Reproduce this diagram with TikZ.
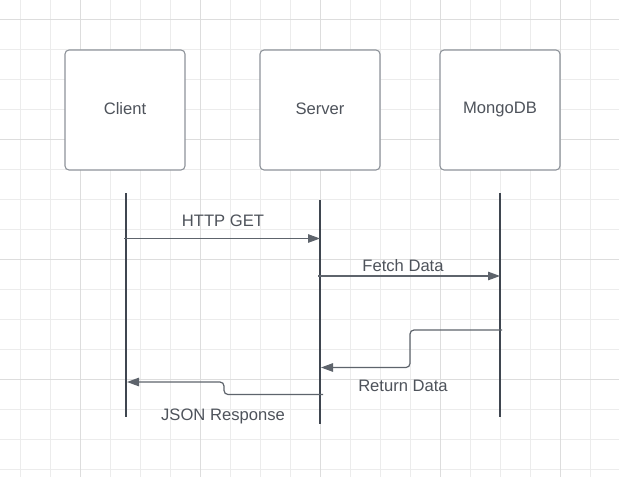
\documentclass[tikz,border=0pt]{standalone}
\usepackage{fontspec}
\setmainfont{Liberation Sans}
\usetikzlibrary{arrows.meta}
\definecolor{gridminor}{HTML}{ECECEC}
\definecolor{gridmajor}{HTML}{DDDDDD}
\definecolor{boxline}{HTML}{8E939A}
\definecolor{lifeline}{HTML}{3F4650}
\definecolor{msgline}{HTML}{5E646C}
\definecolor{txt}{HTML}{4E535B}
\begin{document}
\begin{tikzpicture}[x=1pt,y=-1pt,
  actor/.style={draw=boxline, line width=1.1pt, rounded corners=4pt, fill=white,
    minimum width=120pt, minimum height=120pt, inner sep=0pt,
    text=txt, font=\fontsize{16.6}{19}\selectfont},
  lbl/.style={text=txt, font=\fontsize{16.6}{19}\selectfont, inner sep=0pt},
  life/.style={draw=lifeline, line width=1.15pt},
  msg/.style={draw=msgline, line width=1.2pt, rounded corners=4pt,
    -{Triangle[length=12pt,width=8.5pt]}}]
\useasboundingbox (0,0) rectangle (619,477);
\fill[white] (0,0) rectangle (619,477);
% grid
\foreach \i in {0,...,19} \draw[gridminor, line width=1pt] (20.5+30*\i,0) -- (20.5+30*\i,477);
\foreach \i in {0,...,15} \draw[gridminor, line width=1pt] (0,19+30*\i) -- (619,19+30*\i);
\foreach \i in {0,...,4} \draw[gridmajor, line width=1pt] (80.5+120*\i,0) -- (80.5+120*\i,477);
\foreach \i in {0,...,3} \draw[gridmajor, line width=1pt] (0,19+120*\i) -- (619,19+120*\i);
% actors
\node[actor] (client) at (125,110) {\raisebox{3pt}{Client}};
\node[actor] (server) at (320,110) {\raisebox{3pt}{Server}};
\node[actor] (mongo) at (500,110) {\raisebox{3pt}{MongoDB}};
% lifelines
\coordinate (cltop) at (126,193);
\coordinate (clbot) at (126,417);
\coordinate (svtop) at (320,200);
\coordinate (svbot) at (320,424);
\coordinate (mgtop) at (500,193);
\coordinate (mgbot) at (500,417);
\draw[life] (cltop) -- (clbot);
\draw[life] (svtop) -- (svbot);
\draw[life] (mgtop) -- (mgbot);
% message end points
\coordinate (m1a) at (124,238.5);
\coordinate (m1b) at (320,238.5);
\coordinate (m2a) at (318,276);
\coordinate (m2b) at (500,276);
\coordinate (m3a) at (502,330);
\coordinate (m3b) at (321,367.5);
\coordinate (m4a) at (323,394.5);
\coordinate (m4b) at (127,382);
\draw[msg] (m1a) -- (m1b);
\draw[msg] (m2a) -- (m2b);
\draw[msg] (m3a) -- (410,330) -- (410,367.5) -- (m3b);
\draw[msg] (m4a) -- (224,394.5) -- (224,382) -- (m4b);
% labels
\node[lbl] (l1) at (223,220.5) {HTTP GET};
\node[lbl] (l2) at (403,266) {Fetch Data};
\node[lbl] (l3) at (403,386) {Return Data};
\node[lbl] (l4) at (223,416) {JSON Response};
\end{tikzpicture}
\end{document}
